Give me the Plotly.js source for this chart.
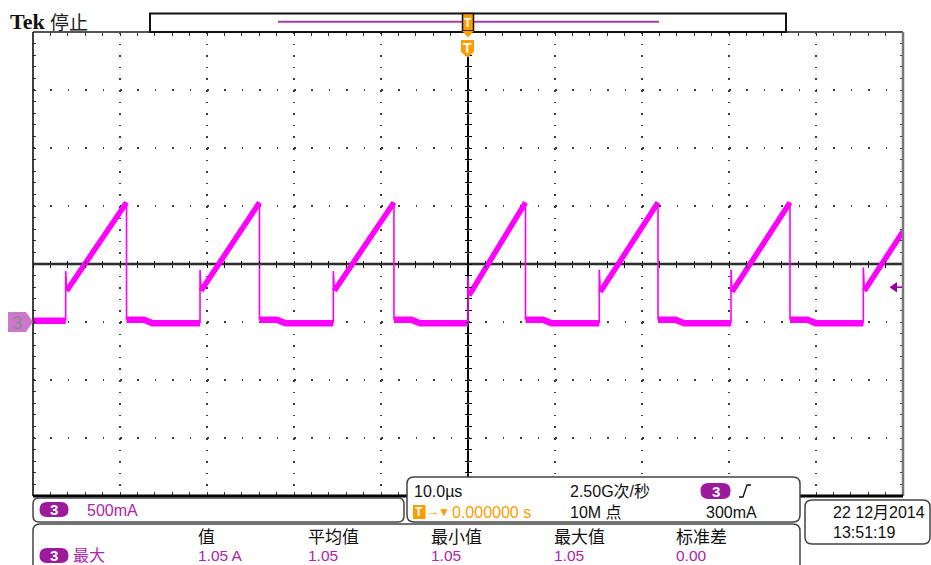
<!DOCTYPE html>
<html><head><meta charset="utf-8">
<script src="https://cdn.plot.ly/plotly-3.0.1.min.js"></script>
<style>html,body{margin:0;padding:0;background:#fff;}#chart{width:931px;height:565px;}</style>
</head><body><div id="chart"></div>
<script>
// ---------------- data ----------------
const riseTimeUs  = [-46.24, -30.80, -15.48, 0.00, 15.09, 30.23, 45.44];   // µs, rising edges
const fallTimeUs  = [-39.25, -23.97, -8.51, 6.61, 21.84, 37.01];           // µs, falling edges
const spikeA      = [0.44, 0.45, 0.44, 0.39, 0.45, 0.45, 0.47];            // A, spike at turn-on
const rampStartA  = [0.27, 0.27, 0.27, 0.23, 0.26, 0.26, 0.27];            // A, ramp start
const peakA       = [1.03, 1.03, 1.03, 1.03, 1.03, 1.03];                  // A, ramp peak
const endA        = 0.78;                                                  // A, value at right edge
const baselineA   = [0.01, -0.01, -0.01, -0.01, -0.01, -0.01, -0.01];      // A, level before each rise
const ringA       = 0.02;                                                  // A, level just after turn-off
const ringUs      = 2.0;                                                   // µs, duration of that level
const timeRangeUs = [-50, 50];
const currentRangeA = [-1.5, 2.5];
const triggerLevelA = 0.3;
const groundA = 0;

const channel = '3';
const chScale = '500mA';
const timebase = '10.0µs';
const sampleRate = '2.50G次/秒';
const recordLen = '10M 点';
const triggerDelay = '0.000000 s';
const trigLevelTxt = '300mA';
const dateTxt = '22 12月2014';
const clockTxt = '13:51:19';
const measName = '最大';
const measHeaders = ['值', '平均值', '最小值', '最大值', '标准差'];
const measValues  = ['1.05 A', '1.05', '1.05', '1.05', '0.00'];

// ---------------- geometry / style ----------------
const L = 33, R = 903, T = 32, B = 496;
const px = x => (x - L) / (R - L);
const py = y => (B - y) / (B - T);
const FONT = 'Liberation Sans, Noto Sans CJK SC, sans-serif';
const CJK = 'Noto Sans CJK SC, sans-serif';
const MAG = '#ff00ff', PURP = '#b022b0', PILL = '#9c1a9c', ORANGE = '#ff9c00', BOX = '#444';
const colPx = [196, 306, 429, 552, 674];

function poly(pts) { // pixel points -> paper path
  return pts.map((p, i) => (i ? 'L' : 'M') + px(p[0]) + ',' + py(p[1])).join(' ') + ' Z';
}
function rrect(x0, y0, x1, y1, r) {
  const X = px, Y = py;
  return `M${X(x0 + r)},${Y(y0)} L${X(x1 - r)},${Y(y0)} Q${X(x1)},${Y(y0)} ${X(x1)},${Y(y0 + r)} ` +
    `L${X(x1)},${Y(y1 - r)} Q${X(x1)},${Y(y1)} ${X(x1 - r)},${Y(y1)} L${X(x0 + r)},${Y(y1)} ` +
    `Q${X(x0)},${Y(y1)} ${X(x0)},${Y(y1 - r)} L${X(x0)},${Y(y0 + r)} Q${X(x0)},${Y(y0)} ${X(x0 + r)},${Y(y0)} Z`;
}
function pshape(path, fill, line, lw, layer) {
  return {type: 'path', xref: 'paper', yref: 'paper', path, fillcolor: fill || 'rgba(0,0,0,0)',
    line: {color: line || 'rgba(0,0,0,0)', width: lw || 0}, layer: layer || 'above'};
}
function pline(x0, y0, x1, y1, color, w, layer) {
  return {type: 'line', xref: 'paper', yref: 'paper', x0: px(x0), y0: py(y0), x1: px(x1), y1: py(y1),
    line: {color, width: w}, layer: layer || 'above'};
}
function txt(x, y, text, size, color, family, anchor) {
  return {xref: 'paper', yref: 'paper', x: px(x), y: py(y), text, showarrow: false,
    xanchor: anchor || 'left', yanchor: 'middle', font: {family: family || FONT, size, color}};
}

// ---------------- waveform built from the arrays ----------------
const flatX = [], flatY = [], rampX = [], rampY = [], edgeX = [], edgeY = [];
for (let i = 0; i < riseTimeUs.length; i++) {
  const r = riseTimeUs[i];
  if (i === 0) {
    flatX.push(timeRangeUs[0], r); flatY.push(baselineA[0], baselineA[0]);
  } else {
    const f = fallTimeUs[i - 1];
    flatX.push(f, f + ringUs, f + ringUs + 1.0, r);
    flatY.push(ringA, ringA, baselineA[i], baselineA[i]);
  }
  flatX.push(null); flatY.push(null);
  edgeX.push(r, r, r + 0.12, null); edgeY.push(baselineA[i], spikeA[i], rampStartA[i], null);
  const hasFall = i < fallTimeUs.length;
  rampX.push(r + 0.12, hasFall ? fallTimeUs[i] : timeRangeUs[1], null);
  rampY.push(rampStartA[i], hasFall ? peakA[i] : endA, null);
  if (hasFall) { edgeX.push(fallTimeUs[i], fallTimeUs[i], null); edgeY.push(peakA[i], ringA, null); }
}

const traces = [
  {x: flatX, y: flatY, mode: 'lines', line: {color: MAG, width: 6.5}, connectgaps: false, hoverinfo: 'skip'},
  {x: rampX, y: rampY, mode: 'lines', line: {color: MAG, width: 5.5}, connectgaps: false, hoverinfo: 'skip'},
  {x: edgeX, y: edgeY, mode: 'lines', line: {color: MAG, width: 1.6}, connectgaps: false, hoverinfo: 'skip'},
  {x: [], y: [], xaxis: 'x2', yaxis: 'y', hoverinfo: 'skip'},
  {x: [], y: [], xaxis: 'x3', yaxis: 'y', hoverinfo: 'skip'},
  {x: [], y: [], xaxis: 'x', yaxis: 'y2', hoverinfo: 'skip'},
  {x: [], y: [], xaxis: 'x', yaxis: 'y3', hoverinfo: 'skip'}
];

const gridCol = '#3a3a3a', tickCol = '#333';
const xbase = {range: timeRangeUs, showticklabels: false, zeroline: false, fixedrange: true};
const ybase = {range: currentRangeA, showticklabels: false, zeroline: false, fixedrange: true};

const layout = {
  width: 931, height: 565, showlegend: false,
  margin: {l: L, r: 931 - R, t: T, b: 565 - B, pad: 0},
  paper_bgcolor: '#fff', plot_bgcolor: '#fff',
  xaxis: Object.assign({}, xbase, {
    showgrid: true, dtick: 10, tick0: 0, gridcolor: gridCol, gridwidth: 1.5, griddash: '1.5px,10.1px',
    ticks: 'inside', ticklen: 4, tickwidth: 1, tickcolor: tickCol, mirror: 'ticks', showline: false,
    minor: {dtick: 2, tick0: 0, ticks: 'inside', ticklen: 4, tickwidth: 1, tickcolor: tickCol, showgrid: false}
  }),
  yaxis: Object.assign({}, ybase, {
    showgrid: true, dtick: 0.5, tick0: 0, gridcolor: gridCol, gridwidth: 1.5, griddash: '1.5px,15.9px',
    ticks: 'inside', ticklen: 3, tickwidth: 1, tickcolor: tickCol, mirror: 'ticks', showline: false,
    minor: {dtick: 0.1, tick0: 0, ticks: 'inside', ticklen: 3, tickwidth: 1, tickcolor: tickCol, showgrid: false}
  }),
  xaxis2: Object.assign({}, xbase, {overlaying: 'x', anchor: 'free', position: 0.5, showgrid: false,
    dtick: 2, tick0: 0, ticks: 'outside', ticklen: 3, tickwidth: 1, tickcolor: '#000'}),
  xaxis3: Object.assign({}, xbase, {overlaying: 'x', anchor: 'free', position: 0.5, showgrid: false,
    dtick: 2, tick0: 0, ticks: 'inside', ticklen: 3, tickwidth: 1, tickcolor: '#000'}),
  yaxis2: Object.assign({}, ybase, {overlaying: 'y', anchor: 'free', position: 0.5, showgrid: false,
    dtick: 0.1, tick0: 0, ticks: 'outside', ticklen: 3, tickwidth: 1, tickcolor: '#000'}),
  yaxis3: Object.assign({}, ybase, {overlaying: 'y', anchor: 'free', position: 0.5, showgrid: false,
    dtick: 0.1, tick0: 0, ticks: 'inside', ticklen: 3, tickwidth: 1, tickcolor: '#000'}),
  shapes: [],
  annotations: []
};

const S = layout.shapes, A = layout.annotations;
// centre crosshair and trigger position line
S.push({type: 'line', xref: 'paper', yref: 'paper', x0: 0, x1: 1, y0: 0.5, y1: 0.5, line: {color: '#b5b5b5', width: 3.5}, layer: 'between'});
S.push({type: 'line', xref: 'paper', yref: 'paper', x0: 0, x1: 1, y0: 0.5, y1: 0.5, line: {color: '#000', width: 1.6}, layer: 'between'});
S.push({type: 'line', xref: 'x', yref: 'paper', x0: 0, x1: 0, y0: 0, y1: py(57), line: {color: '#000', width: 2}, layer: 'between'});
// graticule frame
S.push(pline(L, T, R, T, '#555', 2));
S.push(pline(L, T, L, B, '#111', 1.6));
S.push(pline(R, T, R, B, '#777', 2.5));
S.push(pline(L, B, R, B, '#000', 3));
// record view at the top
S.push(pshape(poly([[150, 13.5], [786, 13.5], [786, 32], [150, 32]]), '#fff', '#111', 2));
S.push(pline(278, 21.7, 659, 21.7, '#a43ca4', 2));
S.push(pshape(poly([[462.5, 13.5], [473.5, 13.5], [473.5, 31], [462.5, 31]]), ORANGE, '#111', 1.5));
S.push(pshape(poly([[462, 31], [474, 31], [468, 37.5]]), ORANGE));
S.push(pshape(poly([[461, 40], [474, 40], [474, 52], [467.5, 57.5], [461, 52]]), ORANGE));
A.push(txt(468, 23, '<b>T</b>', 12, '#fff', FONT, 'center'));
A.push(txt(467.5, 48, '<b>T</b>', 14, '#fff', FONT, 'center'));
A.push(txt(8, 22, '<b>Tek</b>', 22, '#111', 'Liberation Serif, serif'));
A.push(txt(48, 22, '停止', 19, '#222', CJK));
// channel ground marker (at 0 A) and trigger level arrow (at trigger level)
S.push({type: 'path', xref: 'paper', yref: 'y', layer: 'above', fillcolor: '#cc77cc', line: {width: 0, color: 'rgba(0,0,0,0)'},
  path: `M${px(8)},${groundA + 0.086} L${px(26)},${groundA + 0.086} L${px(33)},${groundA} L${px(26)},${groundA - 0.086} L${px(8)},${groundA - 0.086} Z`});
A.push({xref: 'paper', yref: 'y', x: px(17.5), y: groundA, text: channel, showarrow: false, xanchor: 'center', yanchor: 'middle',
  font: {family: FONT, size: 19, color: '#8a8a8a'}});
S.push({type: 'path', xref: 'paper', yref: 'y', layer: 'above', fillcolor: '#990099', line: {width: 0, color: 'rgba(0,0,0,0)'},
  path: `M${px(889.5)},${triggerLevelA} L${px(897)},${triggerLevelA + 0.045} L${px(897)},${triggerLevelA - 0.045} Z`});
S.push({type: 'line', xref: 'paper', yref: 'y', layer: 'above', x0: px(896), x1: px(902), y0: triggerLevelA, y1: triggerLevelA,
  line: {color: '#990099', width: 1.5}});

// ---------------- readout boxes ----------------
S.push(pshape(rrect(33, 498, 404, 522, 6), '#fff', BOX, 1.5));
S.push(pshape(rrect(407, 477, 800, 522, 7), '#fff', BOX, 1.5));
S.push(pshape(rrect(805, 500, 930, 544, 7), '#fff', BOX, 1.5));
S.push(pshape(rrect(33, 524, 800, 580, 7), '#fff', BOX, 1.5));
// pills
S.push(pshape(rrect(39.5, 502, 68.5, 517, 7.5), PILL));
A.push(txt(54, 509.5, '<b>' + channel + '</b>', 15, '#fff', FONT, 'center'));
A.push(txt(85, 510, chScale, 16, PURP));
S.push(pshape(rrect(700.5, 483, 730.5, 499, 8), PILL));
A.push(txt(715.5, 491, '<b>' + channel + '</b>', 15, '#fff', FONT, 'center'));
S.push(pshape(rrect(39.5, 548, 68.5, 563, 7.5), PILL));
A.push(txt(54, 555.5, '<b>' + channel + '</b>', 15, '#fff', FONT, 'center'));
// rising-edge slope symbol
S.push({type: 'path', xref: 'paper', yref: 'paper', layer: 'above', line: {color: '#111', width: 1.3},
  path: `M${px(739)},${py(497)} L${px(743)},${py(497)} L${px(747)},${py(485)} L${px(751)},${py(485)}`});
// timebase box
A.push(txt(412, 491, timebase, 16, '#111'));
A.push(txt(568, 491, sampleRate, 16, '#111'));
S.push(pshape(poly([[413, 505], [425.5, 505], [425.5, 519], [413, 519]]), ORANGE));
A.push(txt(419.3, 512, '<b>T</b>', 12, '#fff', FONT, 'center'));
A.push(txt(424, 511.5, '→', 13, ORANGE));
A.push(txt(436, 511.5, '▼', 12, ORANGE));
A.push(txt(450, 512, triggerDelay, 16, ORANGE));
A.push(txt(568, 512, recordLen, 16, '#111'));
A.push(txt(704, 512, trigLevelTxt, 16, '#111'));
// date box
A.push(txt(831, 512, dateTxt, 16, '#111'));
A.push(txt(831, 532.5, clockTxt, 16, '#111'));
// measurement table
A.push(txt(71, 553.5, measName, 16, PURP, CJK));
measHeaders.forEach((h, i) => A.push(txt(colPx[i], 535.5, h, 17, '#111', CJK)));
measValues.forEach((v, i) => A.push(txt(colPx[i], 555.5, v, 15.5, PURP)));

Plotly.newPlot('chart', traces, layout, {staticPlot: true, displayModeBar: false});
</script>
</body></html>
